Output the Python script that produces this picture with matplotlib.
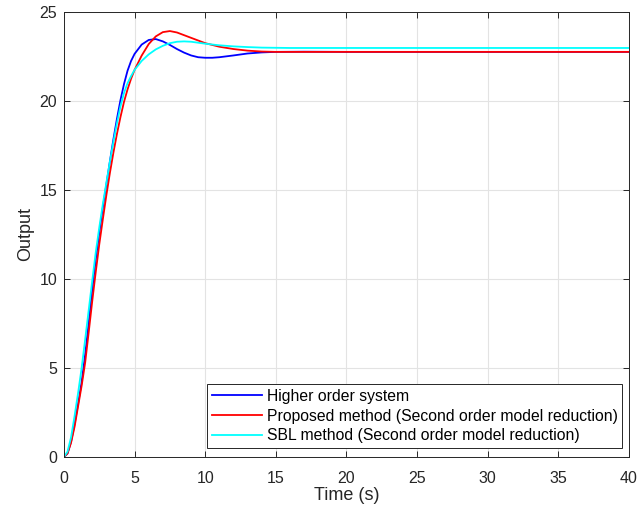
import matplotlib
matplotlib.use("Agg")
import matplotlib.pyplot as plt

# step responses (time in s, output)
t_higher = [0, 0.25, 0.5, 0.75, 1.0, 1.25, 1.5, 1.75, 2.0, 2.25, 2.5, 2.75, 3.0,
            3.25, 3.5, 3.75, 4.0, 4.25, 4.5, 4.75, 5.0, 5.5, 6.0, 6.5, 7.0, 7.5,
            8.0, 8.5, 9.0, 9.5, 10.0, 10.5, 11, 12, 13, 14, 15, 17, 20, 40]
y_higher = [0, 0.2, 0.85, 1.85, 3.0, 4.2, 5.75, 7.55, 9.4, 11.1, 12.6, 14.0, 15.3,
            16.6, 17.85, 19.0, 20.05, 20.95, 21.7, 22.25, 22.65, 23.17, 23.43, 23.48,
            23.35, 23.15, 22.92, 22.72, 22.56, 22.46, 22.43, 22.43, 22.46, 22.56,
            22.67, 22.73, 22.76, 22.77, 22.76, 22.76]

t_proposed = [0, 0.25, 0.5, 0.75, 1.0, 1.25, 1.5, 1.75, 2.0, 2.25, 2.5, 2.75, 3.0,
              3.25, 3.5, 3.75, 4.0, 4.25, 4.5, 4.75, 5.0, 5.5, 6.0, 6.5, 7.0, 7.5,
              8.0, 8.5, 9.0, 9.5, 10, 11, 12, 13, 14, 15, 17, 20, 40]
y_proposed = [0, 0.2, 0.8, 1.7, 2.85, 4.0, 5.3, 7.0, 8.75, 10.4, 11.95, 13.35, 14.7,
              15.95, 17.1, 18.15, 19.1, 19.95, 20.65, 21.25, 21.75, 22.55, 23.2,
              23.63, 23.87, 23.93, 23.85, 23.7, 23.55, 23.4, 23.25, 23.05, 22.92,
              22.83, 22.78, 22.76, 22.76, 22.76, 22.76]

t_sbl = [0, 0.25, 0.5, 0.75, 1.0, 1.25, 1.5, 1.75, 2.0, 2.25, 2.5, 2.75, 3.0,
         3.25, 3.5, 3.75, 4.0, 4.25, 4.5, 4.75, 5.0, 5.5, 6.0, 6.5, 7.0, 7.5,
         8.0, 8.5, 9.0, 10, 11, 12, 13, 14, 16, 20, 40]
y_sbl = [0, 0.3, 1.1, 2.3, 3.6, 5.0, 6.6, 8.25, 9.9, 11.5, 12.9, 14.2, 15.4,
         16.6, 17.7, 18.75, 19.7, 20.45, 21.0, 21.4, 21.75, 22.25, 22.62, 22.9, 23.1,
         23.25, 23.33, 23.35, 23.33, 23.22, 23.13, 23.07, 23.03, 23.0, 22.98,
         22.98, 22.98]

labels = ["Higher order system",
          "Proposed method (Second order model reduction)",
          "SBL method (Second order model reduction)"]
x_ticks = [0, 5, 10, 15, 20, 25, 30, 35, 40]
y_ticks = [0, 5, 10, 15, 20, 25]

plt.rcParams["font.family"] = ["Liberation Sans", "DejaVu Sans"]

fig = plt.figure(figsize=(6.41, 5.18), dpi=100)
ax = fig.add_axes([0.0998, 0.1178, 0.8814, 0.859])

ax.plot(t_higher, y_higher, color="#0000ff", lw=1.3, label=labels[0])
ax.plot(t_proposed, y_proposed, color="#ff0000", lw=1.3, label=labels[1])
ax.plot(t_sbl, y_sbl, color="#00ffff", lw=1.3, label=labels[2])

ax.set_xlim(0, 40)
ax.set_ylim(0, 25)
ax.set_xticks(x_ticks)
ax.set_yticks(y_ticks)
ax.grid(True, color="#e3e3e3", lw=0.8)
ax.set_axisbelow(True)
ax.tick_params(direction="in", length=4, width=0.7, colors="#262626",
               labelsize=11.5, top=True, right=True, labelcolor="#262626")
ax.tick_params(axis="x", pad=10)
ax.tick_params(axis="y", pad=5)
for s in ax.spines.values():
    s.set_color("#262626")
    s.set_linewidth(0.7)

ax.set_xlabel("Time (s)", fontsize=13, color="#262626", labelpad=1)
ax.set_ylabel("Output", fontsize=13, color="#262626", labelpad=4)

leg = ax.legend(loc="lower right", bbox_to_anchor=(0.988, 0.02), fontsize=11.3,
                handlelength=3.2, handletextpad=0.3, labelspacing=0.3,
                borderpad=0.3, borderaxespad=0, fancybox=False, framealpha=1,
                edgecolor="#262626")
leg.get_frame().set_linewidth(0.7)

fig.savefig("out.png", dpi=100)
